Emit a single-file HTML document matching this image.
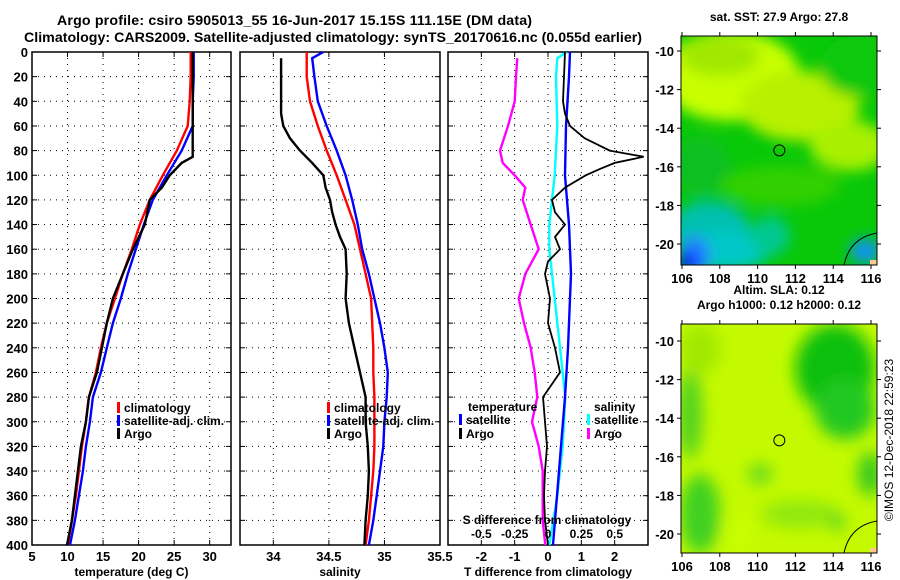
<!DOCTYPE html>
<html><head><meta charset="utf-8">
<style>
body{margin:0;background:#fff;}
svg{display:block;font-family:"Liberation Sans",Arial,sans-serif;font-weight:bold;}
text{font-size:12px;fill:#000;}
</style></head>
<body>
<svg id="c" width="900" height="580" viewBox="0 0 900 580">
<defs>
<filter id="bl1" x="-20%" y="-20%" width="140%" height="140%"><feGaussianBlur stdDeviation="7"/></filter>
<filter id="bl2" x="-20%" y="-20%" width="140%" height="140%"><feGaussianBlur stdDeviation="8"/></filter>
<clipPath id="m1c"><rect x="681" y="36" width="196" height="229"/></clipPath>
<clipPath id="m2c"><rect x="681" y="324" width="196" height="229"/></clipPath>
<clipPath id="p1c"><rect x="32" y="52" width="199" height="493"/></clipPath>
<clipPath id="p2c"><rect x="240" y="52" width="200" height="493"/></clipPath>
<clipPath id="p3c"><rect x="448" y="52" width="200" height="493"/></clipPath>
</defs>
<text x="57" y="25" textLength="475" style="font-size:14.2px">Argo profile: csiro 5905013_55 16-Jun-2017 15.15S 111.15E (DM data)</text>
<text x="24" y="42" textLength="618" style="font-size:14.2px">Climatology: CARS2009. Satellite-adjusted climatology: synTS_20170616.nc (0.055d earlier)</text>
<g id="g"></g>
</svg>
<script>
// ---------- data ----------
const depthStd = [0,20,40,60,80,100,120,140,160,180,200,220,240,260,280,300,320,340,360,380,400];
const tempClim = [27.33,27.33,27.19,26.91,25.37,23.40,21.57,20.17,19.04,17.78,16.66,15.53,14.69,13.99,13.01,12.58,12.02,11.60,11.18,10.62,10.06];
const tempSat  = [27.75,27.75,27.61,27.61,26.07,23.96,21.99,20.73,19.61,18.48,17.50,16.38,15.53,14.69,13.57,13.15,12.58,12.16,11.60,11.04,10.34];
const depthArgoT = [0,20,40,60,80,85,90,100,110,120,140,160,180,200,220,240,260,280,300,320,340,360,380,400];
const tempArgo = [27.61,27.61,27.61,27.61,27.61,27.61,26.07,24.38,23.26,21.57,20.87,19.19,17.78,16.38,15.53,14.83,14.13,13.01,12.58,11.88,11.46,11.04,10.62,9.92];

const salClim = [34.30,34.30,34.33,34.40,34.48,34.57,34.65,34.73,34.78,34.83,34.88,34.89,34.90,34.90,34.91,34.91,34.91,34.90,34.88,34.86,34.83];
const depthSatS = [0,5,20,40,60,80,100,120,140,160,180,200,220,240,260,280,300,320,340,360,380,400];
const salSat = [34.45,34.35,34.37,34.40,34.48,34.57,34.65,34.71,34.76,34.80,34.86,34.91,34.96,35.00,35.03,35.02,35.00,34.99,34.96,34.93,34.90,34.86];
const depthArgoS = [5,50,60,70,80,90,100,110,120,130,140,150,160,180,200,220,240,260,280,300,320,340,360,380,400];
const salArgo = [34.07,34.07,34.09,34.15,34.24,34.35,34.45,34.47,34.51,34.53,34.56,34.60,34.65,34.66,34.65,34.68,34.73,34.78,34.83,34.83,34.85,34.86,34.85,34.83,34.82];

const depthDTsat = [0,20,60,100,140,180,200,240,280,320,360,400];
const dTsat = [0.66,0.63,0.54,0.51,0.63,0.69,0.66,0.60,0.51,0.39,0.27,0.15];
const depthDTargo = [0,20,40,50,60,70,80,85,90,95,100,110,120,130,140,150,160,170,180,200,220,240,260,280,300,320,340,360,380,400];
const dTargo = [0.51,0.48,0.45,0.51,0.66,1.10,1.85,2.87,2.00,1.55,1.13,0.51,0.12,0.21,0.51,0.21,0.36,0.00,-0.09,0.06,0.00,0.21,0.36,-0.15,-0.09,-0.03,-0.09,-0.12,-0.09,0.00];
const depthDSsat = [0,5,20,60,100,120,140,160,200,240,280,320,360,400];
const dSsat = [0.14,0.07,0.06,0.07,0.05,0.03,0.01,0.01,0.05,0.09,0.13,0.11,0.07,0.01];
const depthDSargo = [5,20,40,60,80,90,100,110,120,140,160,180,200,220,240,260,280,300,320,340,360,380,400];
const dSargo = [-0.23,-0.24,-0.25,-0.30,-0.36,-0.34,-0.25,-0.17,-0.19,-0.13,-0.07,-0.17,-0.22,-0.18,-0.13,-0.10,-0.08,-0.12,-0.07,-0.04,-0.04,-0.04,-0.02];

const depthTicks = [0,20,40,60,80,100,120,140,160,180,200,220,240,260,280,300,320,340,360,380,400];
const tTicks = [5,10,15,20,25,30];
const sTicks = [34,34.5,35,35.5];
const dtTicks = [-2,-1,0,1,2];
const dsTicks = [-0.5,-0.25,0,0.25,0.5];
const dsTickLabels = ["-0.5","-0.25","0","0.25","0.5"];
const lonTicks = [106,108,110,112,114,116];
const latTicks = [-10,-12,-14,-16,-18,-20];
const argoLon = 111.15, argoLat = -15.15;

// ---------- helpers ----------
const NS="http://www.w3.org/2000/svg";
const G=document.getElementById('g');
function mk(tag,attrs,parent){const e=document.createElementNS(NS,tag);for(const k in attrs)e.setAttribute(k,attrs[k]);(parent||G).appendChild(e);return e;}
function txt(x,y,s,anchor,parent,size){const t=mk('text',{x:x,y:y,'text-anchor':anchor||'start'},parent);if(size)t.style.fontSize=size+'px';t.textContent=s;return t;}
const yTop=52,yBot=545;
const yD=d=>yTop+(yBot-yTop)*d/400;
function xs(x0,x1,v0,v1){return v=>x0+(x1-x0)*(v-v0)/(v1-v0);}
const xT=xs(32,231,5,33), xS=xs(240,440,33.7,35.5), xDT=xs(448,648,-3,3), xDS=xs(448,648,-0.75,0.75);

function panel(name,x0,x1,xticks,xf,labels,xlabel){
  const g=mk('g',{});
  
  
  depthTicks.forEach(d=>{ if(d>0&&d<400){mk('line',{x1:x0,x2:x1,y1:yD(d),y2:yD(d),stroke:'#000','stroke-width':1,'stroke-dasharray':'1,5'},g);}
    mk('line',{x1:x0,x2:x0+5,y1:yD(d),y2:yD(d),stroke:'#000','stroke-width':1},g);
    mk('line',{x1:x1-5,x2:x1,y1:yD(d),y2:yD(d),stroke:'#000','stroke-width':1},g);
  });
  xticks.forEach((v,i)=>{const x=xf(v);
    if(x>x0+1&&x<x1-1) mk('line',{x1:x,x2:x,y1:yTop,y2:yBot,stroke:'#000','stroke-width':1,'stroke-dasharray':'1,5'},g);
    mk('line',{x1:x,x2:x,y1:yBot-5,y2:yBot,stroke:'#000'},g);mk('line',{x1:x,x2:x,y1:yTop,y2:yTop+5,stroke:'#000'},g);
    if(labels){const t=txt(x,561,labels[i],'middle',g,13);}
  });
  const r=mk('rect',{x:x0,y:yTop,width:x1-x0,height:yBot-yTop,fill:'none',stroke:'#000','stroke-width':1.5},g);
  
  const xl=txt((x0+x1)/2,576,xlabel,'middle',g);
  
  return g;
}
function line(depths,vals,xf,color,name,clip,w){
  const pts=depths.map((d,i)=>xf(vals[i]).toFixed(1)+','+yD(d).toFixed(1)).join(' ');
  const p=mk('polyline',{points:pts,fill:'none',stroke:color,'stroke-width':w||2.4,'clip-path':'url(#'+clip+')'});
  
  
}
function legend(x,y,color,label,name){
  const g=mk('g',{});
  
  
  mk('rect',{x:x,y:y-10,width:3,height:11,fill:color},g);
  txt(x+7,y,label,'start',g);
}

depthTicks.forEach(d=>{const t=txt(28,yD(d)+5,String(d),'end',null,13);
  
  });

// Panel 1
panel('temperature-panel',32,231,tTicks,xT,tTicks.map(String),'temperature (deg C)');
line(depthStd,tempClim,xT,'#ff0000','temp-climatology-line','p1c');
line(depthStd,tempSat,xT,'#0000ff','temp-satellite-line','p1c');
line(depthArgoT,tempArgo,xT,'#000000','temp-argo-line','p1c');
legend(117,412,'#ff0000','climatology','legend-climatology');
legend(117,425,'#0000ff','satellite-adj. clim.','legend-satellite-adj');
legend(117,438,'#000000','Argo','legend-argo');

// Panel 2
panel('salinity-panel',240,440,sTicks,xS,['34','34.5','35','35.5'],'salinity');
line(depthStd,salClim,xS,'#ff0000','sal-climatology-line','p2c');
line(depthSatS,salSat,xS,'#0000ff','sal-satellite-line','p2c');
line(depthArgoS,salArgo,xS,'#000000','sal-argo-line','p2c');
legend(327,412,'#ff0000','climatology','legend-climatology-sal');
legend(327,425,'#0000ff','satellite-adj. clim.','legend-satellite-adj-sal');
legend(327,438,'#000000','Argo','legend-argo-sal');

// Panel 3
panel('difference-panel',448,648,dtTicks,xDT,dtTicks.map(String),'T difference from climatology');
line(depthDSargo,dSargo,xDS,'#ff00ff','sdiff-argo-line','p3c');
line(depthDSsat,dSsat,xDS,'#00ffff','sdiff-satellite-line','p3c');
line(depthDTsat,dTsat,xDT,'#0000ff','tdiff-satellite-line','p3c');
line(depthDTargo,dTargo,xDT,'#000000','tdiff-argo-line','p3c',1.8);
{const t=txt(468,411,'temperature');}
legend(459,424,'#0000ff','satellite','legend-t-satellite');
legend(459,438,'#000000','Argo','legend-t-argo');
{const t=txt(594,411,'salinity');}
legend(587,424,'#00ffff','satellite','legend-s-satellite');
legend(587,438,'#ff00ff','Argo','legend-s-argo');
{const t=txt(547,524,'S difference from climatology','middle');}
dsTicks.forEach((v,i)=>{const t=txt(xDS(v),538,dsTickLabels[i],'middle');
  
  });

// ---------- maps ----------
const mLon=v=>682+(v-106)*18.9;
function mapFrame(y0,latY,name,title1,title2,clip,blobs,base,blurId){
  const g=mk('g',{});
  
  
  const cg=mk('g',{'clip-path':'url(#'+clip+')'},g);
  mk('rect',{x:681,y:y0,width:196,height:229,fill:base},cg);
  const bg=mk('g',{filter:'url(#'+blurId+')'},cg);
  blobs.forEach(b=>mk('ellipse',{cx:b[0],cy:y0+b[1],rx:b[2],ry:b[3],fill:b[4]},bg));
  mk('path',{d:`M844 ${y0+229} C848 ${y0+210} 860 ${y0+200} 877 ${y0+197}`,fill:'none',stroke:'#000','stroke-width':1},cg);
  mk('rect',{x:870,y:y0+224,width:7,height:5,fill:'#ffc890'},cg);
  const c=mk('circle',{cx:mLon(argoLon),cy:latY(argoLat),r:5.5,fill:'none',stroke:'#000','stroke-width':1},g);
  
  
  mk('rect',{x:681,y:y0,width:196,height:229,fill:'none',stroke:'#000','stroke-width':1},g);
  lonTicks.forEach(v=>{const x=mLon(v);
    mk('line',{x1:x,x2:x,y1:y0-4,y2:y0,stroke:'#000'},g);
    mk('line',{x1:x,x2:x,y1:y0+229,y2:y0+233,stroke:'#000'},g);
    const t=txt(x,y0+247,String(v),'middle',g,13);
    
    });
  latTicks.forEach(v=>{const y=latY(v);
    mk('line',{x1:677,x2:681,y1:y,y2:y,stroke:'#000'},g);
    mk('line',{x1:877,x2:881,y1:y,y2:y,stroke:'#000'},g);
    const t=txt(674,y+5,String(v),'end',g,13);
    
    });
  const t1=txt(779,title2?y0-30:y0-15,title1,'middle',g);
  
  if(title2){const t2=txt(779,y0-15,title2,'middle',g);
    }
}
const lat1=v=>51+(-10-v)*19.3, lat2=v=>341+(-10-v)*19.3;
mapFrame(36,lat1,'sst-map','sat. SST: 27.9 Argo: 27.8',null,'m1c',[
 [730,40,70,45,'#c8ff00'],[800,70,60,35,'#b8f000'],[850,110,40,25,'#a8f000'],[720,20,40,20,'#a0e800'],
 [860,30,40,30,'#10c810'],[700,130,30,30,'#10c020'],[780,150,60,20,'#30d000'],
 [710,195,40,30,'#00c0b0'],[725,215,45,20,'#00c8c8'],[695,220,15,20,'#2080ff'],[688,225,10,10,'#0000ff'],[770,200,20,20,'#00c890'],[865,215,15,12,'#1090ff']
],'#08c808','bl1');
mapFrame(324,lat2,'sla-map','Altim. SLA: 0.12','Argo h1000: 0.12 h2000: 0.12','m2c',[
 [835,45,40,45,'#10c010'],[845,85,30,30,'#20c820'],[690,90,12,45,'#50d020'],[700,190,20,40,'#40d020'],
 [760,150,12,10,'#60d820'],[800,190,40,14,'#90e810'],[870,150,12,22,'#30c820'],[837,198,8,8,'#50d020'],
 [740,210,14,16,'#c8ff00'],[700,25,20,25,'#a0e800']
],'#c4fa00','bl2');

{const t=mk('text',{x:893,y:440,'text-anchor':'middle',transform:'rotate(-90 893 440)'});
 t.style.fontWeight='normal';t.style.fontSize='12px';
 t.textContent='©IMOS 12-Dec-2018 22:59:23';
 
 }
</script>
</body></html>
